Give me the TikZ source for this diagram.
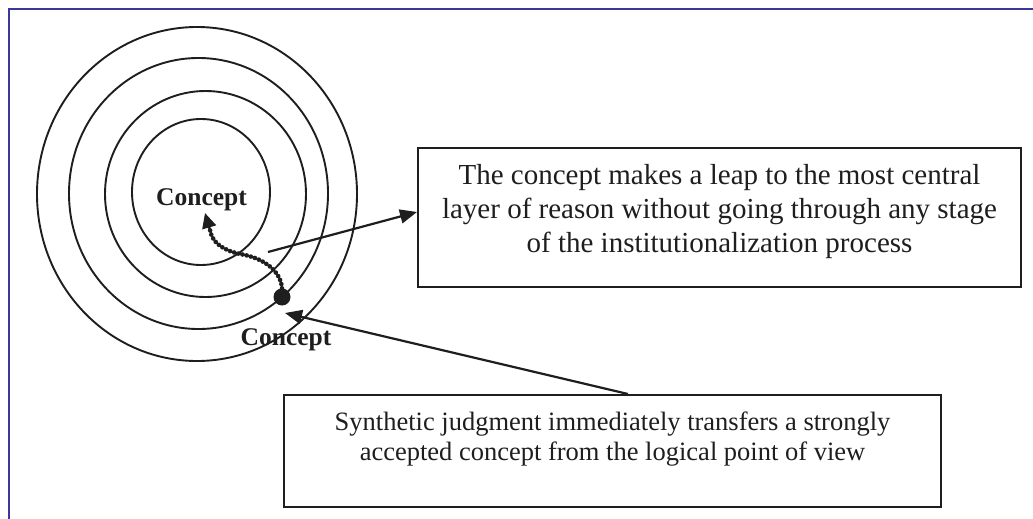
\documentclass[tikz,border=0pt]{standalone}
\usepackage{fontspec}
\setmainfont{Liberation Serif}
\usetikzlibrary{arrows.meta,calc}
\definecolor{framebl}{RGB}{58,58,150}
\definecolor{ink}{RGB}{30,30,30}
\begin{document}
\begin{tikzpicture}[x=1pt,y=-1pt,
  ring/.style={draw=ink,line width=1.9pt},
  box/.style={draw=ink,line width=2pt,inner sep=0pt},
  note/.style={align=center,inner sep=0pt,text=ink},
  arr/.style={draw=ink,line width=2.2pt,-{Triangle[length=17pt,width=14pt]}},
  lbl/.style={font=\fontsize{25.5}{30}\selectfont\bfseries,inner sep=0pt,text=ink},
  beads/.style={draw=ink,line width=4.6pt,dash pattern=on 0pt off 4.3pt,line cap=round}]
\useasboundingbox (0,0) rectangle (1033,519);
\fill[white] (0,0) rectangle (1033,519);

% page frame (top and left edges)
\draw[framebl,line width=2pt] (8.5,519) -- (8.5,9.5) -- (1033,9.5);

% concentric layers of reason
\draw[ring] (197,194) ellipse [x radius=160pt, y radius=167pt];
\draw[ring] (198.5,193.5) ellipse [x radius=129.5pt, y radius=135.5pt];
\draw[ring] (205.5,194) ellipse [x radius=100.5pt, y radius=103pt];
\draw[ring] (201,192) ellipse [x radius=69pt, y radius=73pt];

% labels
\node[lbl] (cIn) at (201.5,199.5) {Concept};
\node[lbl] (cOut) at (286,339.5) {Concept};

% starting point of the concept
\node[circle,fill=ink,inner sep=0pt,minimum size=17pt] (dot) at (282,297) {};

% leap towards the centre
\coordinate (bend) at (240,254);
\coordinate (headbase) at (210,230);
\coordinate (tip) at (205,213);
\draw[beads] (dot.north) .. controls (281,272) and (265,258) .. (bend)
  .. controls (222,250) and (212,242) .. (headbase);
\draw[draw=ink,line width=2.4pt,-{Triangle[length=15pt,width=14pt]}] (headbase) -- (tip);

% explanation boxes
\node[box,minimum width=603pt,minimum height=139pt] (box1) at (719.5,217.5) {};
\node[note,font=\fontsize{29}{34}\selectfont] (t1) at (719.5,212)
  {The concept makes a leap to the most central\\layer of reason without going through any stage\\of the institutionalization process};

\node[box,minimum width=657pt,minimum height=112pt] (box2) at (612.5,451) {};
\node[note,font=\fontsize{26.5}{30}\selectfont] (t2) at (612.5,439)
  {Synthetic judgment immediately transfers a strongly\\accepted concept from the logical point of view};

% pointers
\coordinate (a1s) at (268,252);
\draw[arr] (a1s) -- ([yshift=5.5pt]box1.west);
\coordinate (a2e) at (285,313);
\draw[arr] ([xshift=15.5pt]box2.north) -- (a2e);
\end{tikzpicture}
\end{document}
